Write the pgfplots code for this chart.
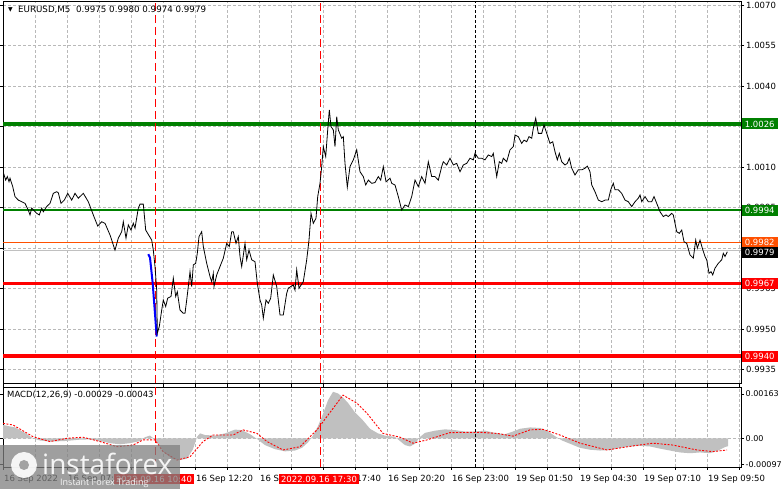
\documentclass[border=0pt]{standalone}
\usepackage{pgfplots}
\pgfplotsset{compat=1.18}
\usepackage{pgfplotstable}
\usepackage{fontspec}
\setmainfont{DejaVu Sans}
\newfontfamily\wmfont{Open Sans}
\definecolor{lvlgreen}{RGB}{0,128,0}
\definecolor{lvlred}{RGB}{255,0,0}
\definecolor{lvlorange}{RGB}{255,80,0}
\definecolor{gridgray}{RGB}{185,185,185}
\definecolor{histgray}{RGB}{192,192,192}

\pgfplotstableread{
x y
3.3 1.00080
5.7 1.00052
7.3 1.00065
9 1.00046
10 1.00059
12.7 1.00028
15 0.99991
18.3 0.99978
21.7 0.99972
25 0.99966
28.3 0.99941
30 0.99923
31.7 0.99948
36.7 0.99929
39.3 0.99923
41.7 0.99948
43.3 0.99935
46.7 0.99954
50 0.99966
53.3 1.00003
56.7 1.00009
58.3 1.00005
61 0.99966
64.3 0.99978
67.7 1.00003
71.7 0.99978
75 1.00003
78.3 0.99985
83.3 1.00003
88.3 0.99972
93.3 0.99923
97.7 0.99882
101.7 0.99898
105 0.99892
110 0.99849
115 0.99793
118.3 0.99837
121.7 0.99861
123.3 0.99898
126 0.99837
128.3 0.99886
131 0.99867
133.3 0.99892
135 0.99874
138.3 0.99948
140 0.99963
143.3 0.99963
145.7 0.99867
151.7 0.99830
153.3 0.99793
155 0.99732
156.7 0.99645
157.3 0.99485
159.3 0.99510
161.7 0.99571
163.3 0.99608
165.7 0.99584
167.7 0.99615
171 0.99621
173.3 0.99689
175.7 0.99621
177.3 0.99639
180 0.99571
183.3 0.99559
185 0.99559
186.7 0.99608
188.3 0.99658
190 0.99713
191.7 0.99658
193.3 0.99738
195.7 0.99744
197.3 0.99781
199 0.99843
201.7 0.99861
203.3 0.99806
206.7 0.99744
210 0.99695
211.7 0.99676
213.3 0.99707
214 0.99658
216.7 0.99701
220 0.99732
223.3 0.99763
226.7 0.99818
229.3 0.99806
231.7 0.99861
233.3 0.99861
236 0.99818
238.3 0.99843
240 0.99769
241.7 0.99732
245 0.99818
246.7 0.99757
249 0.99793
251.7 0.99757
255 0.99750
257.3 0.99670
260 0.99608
261.7 0.99590
263.3 0.99541
266 0.99608
268.3 0.99596
270.7 0.99615
273.3 0.99701
276.7 0.99658
280 0.99553
283.3 0.99553
286.7 0.99633
288.3 0.99652
293.3 0.99664
295 0.99645
296.7 0.99720
299 0.99652
303.3 0.99676
306.7 0.99757
309 0.99830
311 0.99929
313.3 0.99892
316 0.99911
317.7 0.99991
320 1.00040
321.7 1.00102
323.3 1.00176
325.7 1.00139
327.7 1.00238
329.3 1.00312
331 1.00250
333.3 1.00238
335 1.00176
336.7 1.00287
338.3 1.00238
341.7 1.00207
343.3 1.00213
345 1.00114
347.3 1.00026
350 1.00102
353.3 1.00127
356.7 1.00164
360 1.00083
363.3 1.00065
365.7 1.00034
368.3 1.00052
371.7 1.00040
375 1.00043
378.3 1.00065
380.7 1.00052
383.3 1.00102
386 1.00046
390 1.00059
391.7 1.00040
395 1.00034
398.3 0.99991
401.7 0.99941
405 0.99960
408.3 0.99954
411.7 0.99991
415 1.00052
418.3 1.00028
421.7 1.00065
425 1.00040
428.3 1.00120
431.7 1.00065
435 1.00065
438.3 1.00052
441.7 1.00102
443.3 1.00120
446.7 1.00108
450 1.00133
453.3 1.00108
456.7 1.00114
460 1.00083
463.3 1.00108
466.7 1.00114
470 1.00133
473.3 1.00127
475 1.00151
478.3 1.00133
481.7 1.00133
485 1.00127
488.3 1.00145
491.7 1.00139
493.3 1.00151
496.7 1.00065
499.3 1.00120
501.7 1.00114
503.3 1.00133
506.7 1.00120
510 1.00164
513.3 1.00176
515 1.00219
518.3 1.00213
521.7 1.00188
524 1.00200
526.7 1.00194
529 1.00213
531.7 1.00207
533.3 1.00244
535.7 1.00281
538.3 1.00225
541.7 1.00225
544 1.00256
546.7 1.00225
550 1.00188
552.7 1.00194
555 1.00157
557.3 1.00127
559.3 1.00151
561.7 1.00120
565 1.00108
567.3 1.00114
569.3 1.00133
571.7 1.00096
575 1.00071
578.3 1.00090
581.7 1.00090
585 1.00096
587.3 1.00104
590 1.00083
591.7 1.00034
595 1.00009
598.3 0.99978
601.7 0.99972
605 0.99978
608.3 0.99978
610.7 1.00016
613.3 1.00040
615 1.00016
618.3 1.00016
621.7 1.00003
625 0.99978
628.3 0.99972
631.7 0.99954
635 0.99972
638.3 0.99985
640 0.99997
641.7 0.99972
645 0.99991
648.3 0.99972
651.7 0.99972
654 0.99991
656.7 0.99966
660 0.99935
663.3 0.99917
666 0.99923
668.3 0.99917
671.7 0.99929
673.3 0.99923
676.7 0.99861
679.3 0.99855
681.7 0.99867
684 0.99824
686.7 0.99818
690 0.99775
693.3 0.99763
695.7 0.99830
697.3 0.99800
700 0.99830
702.3 0.99800
705 0.99769
706.7 0.99757
709 0.99707
711 0.99713
712.7 0.99701
715 0.99726
718.3 0.99744
721.7 0.99757
723.3 0.99781
725 0.99769
727.3 0.99787
}\pricetable

\pgfplotstableread{
x h
3 0.00049
15 0.00040
25 0.00020
33 0.0
40 -0.00008
50 -0.00012
65 -0.00010
80 -0.00005
90 -0.00004
100 -0.00010
110 -0.00018
120 -0.00022
130 -0.00018
140 -0.00010
145 0.00004
150 0.00010
155 -0.00005
160 -0.00030
165 -0.00055
172 -0.00075
180 -0.00080
187 -0.00075
193 -0.00040
197 0.00005
200 0.00018
205 0.00012
215 0.00010
225 0.00018
235 0.00032
242 0.00030
250 0.00015
258 -0.00005
265 -0.00025
275 -0.00040
285 -0.00048
295 -0.00045
302 -0.00035
308 -0.00015
313 0.00010
318 0.00045
323 0.00090
328 0.00140
333 0.00171
338 0.00165
343 0.00150
348 0.00130
355 0.00095
362 0.00070
370 0.00035
378 0.00018
385 0.00010
395 0.00005
400 -0.00010
405 -0.00025
410 -0.00030
415 -0.00020
420 0.00005
425 0.00020
435 0.00028
445 0.00033
455 0.00030
465 0.00025
475 0.00025
485 0.00028
495 0.00020
505 0.00015
513 0.00025
520 0.00035
530 0.00040
540 0.00038
548 0.00025
555 0.00008
562 -0.00008
570 -0.00020
580 -0.00035
590 -0.00042
600 -0.00045
610 -0.00043
620 -0.00035
630 -0.00030
640 -0.00028
650 -0.00030
660 -0.00038
670 -0.00045
680 -0.00052
690 -0.00055
700 -0.00052
710 -0.00055
718 -0.00045
725 -0.00032
728 -0.00029
}\histtable

\pgfplotstableread{
x s
3 0.00055
13 0.00049
33 0.00006
50 -0.00012
67 0.0
83 0.00004
100 -0.00012
117 -0.00031
133 -0.00025
143 -0.00006
155 -0.00006
163 -0.00049
177 -0.00080
190 -0.00068
203 -0.00012
213 0.00012
233 0.00012
243 0.00031
257 0.00018
267 -0.00012
283 -0.00043
300 -0.00031
317 0.00031
333 0.00110
343 0.00159
357 0.00129
367 0.00092
383 0.00018
400 0.00004
413 -0.00018
427 -0.00006
450 0.00021
480 0.00022
497 0.00018
513 0.00008
530 0.00031
543 0.00033
560 0.00012
580 -0.00018
607 -0.00043
633 -0.00028
653 -0.00018
673 -0.00025
697 -0.00043
713 -0.00049
727 -0.00043
}\signaltable

\begin{document}
\begin{tikzpicture}[x=1bp,y=1bp]
\useasboundingbox (0,0) rectangle (781,489);
\fill[white] (0,0) rectangle (781,489);

\pgfplotsset{
  mtstyle/.style={
    scale only axis, width=738bp, anchor=south west,
    xmin=3, xmax=741,
    xtick={3,35,...,739},
    scaled ticks=false,
    grid=major,
    major grid style={gridgray, dash pattern=on 3bp off 2bp, line width=0.6bp},
    axis line style={black, line width=0.8bp},
    tick align=outside, major tick length=3bp, tick style={black, line width=0.6bp},
    ticklabel style={font=\fontsize{8.5bp}{9bp}\selectfont},
    yticklabel pos=right,
    yticklabel style={anchor=west, inner sep=0pt, xshift=2bp},
  }
}

% ---------- main price panel ----------
\begin{axis}[mtstyle,
  at={(3bp,106bp)}, height=382bp,
  ymin=0.99301, ymax=1.00715,
  xticklabels={}, xmajorticks=false,
  ytick={0.9935,0.9950,0.9965,0.9980,0.9995,1.0010,1.0025,1.0040,1.0055,1.0070},
  yticklabels={0.9935,0.9950,0.9965,0.9980,0.9995,1.0010,1.0025,1.0040,1.0055,1.0070},
]
\addplot[lvlgreen, line width=4bp] coordinates {(3,1.0026) (741,1.0026)};
\addplot[lvlgreen, line width=2bp] coordinates {(3,0.9994) (741,0.9994)};
\addplot[lvlorange, line width=1bp] coordinates {(3,0.9982) (741,0.9982)};
\addplot[histgray, line width=1bp] coordinates {(3,0.9979) (741,0.9979)};
\addplot[lvlred, line width=2.5bp] coordinates {(3,0.9967) (741,0.9967)};
\addplot[lvlred, line width=4bp] coordinates {(3,0.9940) (741,0.9940)};
\addplot[red, line width=0.9bp, dash pattern=on 8bp off 4bp] coordinates {(155,0.99301) (155,1.00715)};
\addplot[red, line width=0.9bp, dash pattern=on 8bp off 4bp] coordinates {(320,0.99301) (320,1.00715)};
\addplot[black, line width=0.9bp, dash pattern=on 3bp off 2bp] coordinates {(475,0.99301) (475,1.00715)};
\addplot[blue, line width=2bp] coordinates {(148.3,0.99778) (150,0.99765) (152.7,0.99670) (156.7,0.99473)};
\addplot[black, line width=0.8bp] table[x=x, y=y] {\pricetable};
\coordinate (L1) at (axis cs:741,1.0026);
\coordinate (L2) at (axis cs:741,0.9994);
\coordinate (L3) at (axis cs:741,0.9982);
\coordinate (L4) at (axis cs:741,0.9979);
\coordinate (L5) at (axis cs:741,0.9967);
\coordinate (L6) at (axis cs:741,0.9940);
\end{axis}

% ---------- MACD panel ----------
\begin{axis}[mtstyle,
  at={(3bp,22bp)}, height=80bp,
  ymin=-0.001056, ymax=0.001888,
  ytick={-0.00097,0.00163}, yticklabels={-0.00097,0.00163},
  yticklabel style={font=\fontsize{8bp}{9bp}\selectfont, xshift=-0.5bp},
  ymajorgrids=false,
  extra y ticks={0}, extra y tick labels={0.00},
  extra y tick style={ymajorgrids=true, xmajorgrids=false},
  xticklabels={16 Sep 2022,,16 Sep 07:00,,16 Sep 09:40,,16 Sep 12:20,,16 Sep 15:00,,16 Sep 17:40,,16 Sep 20:20,,16 Sep 23:00,,19 Sep 01:50,,19 Sep 04:30,,19 Sep 07:10,,19 Sep 09:50,},
  xticklabel style={anchor=west, inner sep=0pt, xshift=1bp, yshift=-9bp},
]
\addplot[draw=none, fill=histgray] table[x=x, y=h] {\histtable} \closedcycle;
\addplot[red, line width=0.9bp, dash pattern=on 2bp off 1.5bp] table[x=x, y=s] {\signaltable};
\addplot[red, line width=0.9bp, dash pattern=on 8bp off 4bp] coordinates {(155,-0.001056) (155,0.001888)};
\addplot[red, line width=0.9bp, dash pattern=on 8bp off 4bp] coordinates {(320,-0.001056) (320,0.001888)};
\addplot[black, line width=0.9bp, dash pattern=on 3bp off 2bp] coordinates {(475,-0.001056) (475,0.001888)};
\end{axis}

% ---------- price level labels ----------
\tikzset{lvl/.style={anchor=west, inner xsep=2bp, inner ysep=0pt, minimum height=11bp, minimum width=36bp, text=white, font=\fontsize{8.5bp}{9bp}\selectfont}}
\node[lvl, fill=lvlgreen] at ([xshift=0.5bp]L1) {1.0026};
\node[lvl, fill=lvlgreen] at ([xshift=0.5bp]L2) {0.9994};
\node[lvl, fill=lvlorange] at ([xshift=0.5bp]L3) {0.9982};
\node[lvl, fill=black] at ([xshift=0.5bp,yshift=-2bp]L4) {0.9979};
\node[lvl, fill=lvlred] at ([xshift=0.5bp]L5) {0.9967};
\node[lvl, fill=lvlred] at ([xshift=0.5bp]L6) {0.9940};

% ---------- titles ----------
\node[anchor=west, inner sep=0pt, font=\fontsize{6bp}{6bp}\selectfont] at (8,479) {▼};
\node[anchor=west, inner sep=0pt, font=\fontsize{8.7bp}{9bp}\selectfont] at (18,479) {EURUSD,M5\ \ 0.9975 0.9980 0.9974 0.9979};
\node[anchor=west, inner sep=0pt, font=\fontsize{8.5bp}{9bp}\selectfont] at (7,94) {MACD(12,26,9) -0.00029 -0.00043};

% ---------- date boxes ----------
\node[fill=lvlred, text=white, inner xsep=2bp, inner ysep=1.5bp, font=\fontsize{8.5bp}{9bp}\selectfont] at (154,10) {2022.09.16 10:40};
\node[fill=lvlred, text=white, inner xsep=2bp, inner ysep=1.5bp, font=\fontsize{8.5bp}{9bp}\selectfont] at (319,10) {2022.09.16 17:30};

% ---------- watermark ----------
\fill[gray, opacity=0.75] (0,0) rectangle (180,44);
\fill[white, opacity=0.9] (24,24) circle (13);
\fill[gray!80, opacity=0.9] (24,24) circle (5);
\node[anchor=west, inner sep=0pt, text=white, opacity=0.9, font=\wmfont\fontsize{28bp}{28bp}\selectfont] at (42,25) {instaforex};
\node[anchor=west, inner sep=0pt, text=white, opacity=0.9, font=\wmfont\fontsize{9bp}{9bp}\selectfont] at (60,6) {Instant Forex Trading};
\end{tikzpicture}
\end{document}
